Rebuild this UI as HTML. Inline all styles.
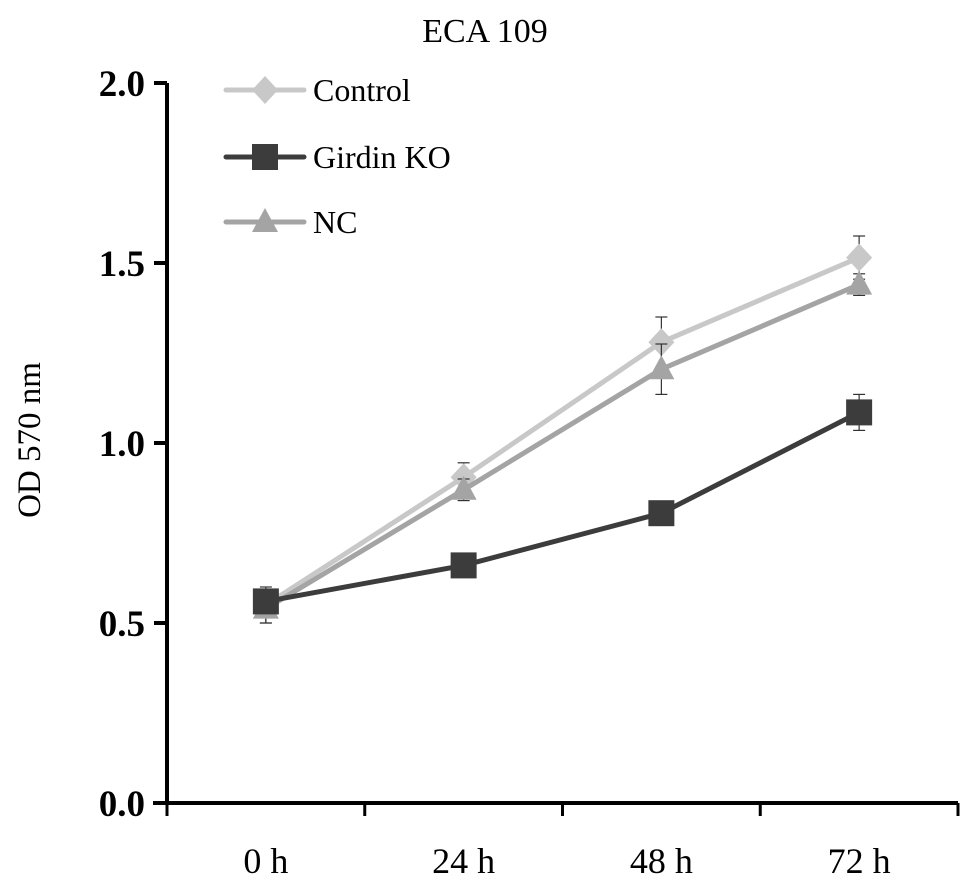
<!DOCTYPE html>
<html><head><meta charset="utf-8"><style>
body{margin:0;background:#fff}
svg{display:block;font-family:"Liberation Serif",serif}
</style></head><body>
<svg id="chart" width="969" height="887" viewBox="0 0 969 887" xmlns="http://www.w3.org/2000/svg">
<text x="485" y="42" font-size="34" text-anchor="middle">ECA 109</text>
<text transform="translate(40,440) rotate(-90)" font-size="33" text-anchor="middle">OD 570 nm</text>
<g id="axes"></g>
<g id="series"></g>
<g id="legend"></g>
</svg>
<script>
const categories=["0 h","24 h","48 h","72 h"];
const yTicks=[0,0.5,1,1.5,2];
const yTickLabels=["0.0","0.5","1.0","1.5","2.0"];
const controlVals=[0.55,0.905,1.28,1.515];
const controlErr=[0.05,0.04,0.07,0.06];
const girdinVals=[0.56,0.66,0.805,1.085];
const girdinErr=[0.03,0.02,0.02,0.05];
const ncVals=[0.54,0.87,1.205,1.44];
const ncErr=[0.04,0.03,0.07,0.03];
const NS="http://www.w3.org/2000/svg";
const x0=167,x1=958,yBase=803,yTop=83;
const y=v=>yBase-(v/2)*(yBase-yTop);
const step=(x1-x0)/categories.length;
const x=i=>x0+step*(i+0.5);
function mk(t,a,p){const e=document.createElementNS(NS,t);for(const k in a)e.setAttribute(k,a[k]);p.appendChild(e);return e;}
const axes=document.getElementById('axes');
const ya=mk('line',{x1:x0,y1:yTop,x2:x0,y2:yBase,stroke:'#000','stroke-width':4},axes);


const xa=mk('line',{x1:x0-14,y1:yBase,x2:x1,y2:yBase,stroke:'#000','stroke-width':4},axes);


yTicks.forEach((v,i)=>{
 mk('line',{x1:x0-13,y1:y(v),x2:x0,y2:y(v),stroke:'#000','stroke-width':4},axes);
 const t=mk('text',{x:x0-22,y:y(v)+13,'font-size':37,'font-weight':'bold','text-anchor':'end'},axes);
 t.textContent=yTickLabels[i];
 
 
});
for(let i=0;i<=categories.length;i++){
 mk('line',{x1:x0+step*i,y1:yBase,x2:x0+step*i,y2:yBase+13,stroke:'#000','stroke-width':3},axes);
}
categories.forEach((c,i)=>{
 const t=mk('text',{x:x(i),y:873,'font-size':36,'text-anchor':'middle'},axes);
 t.textContent=c;
 
 
});
const ser=document.getElementById('series');
const defs=[
 {name:'control',vals:controlVals,err:controlErr,col:'#c8c8c8',mark:'diamond'},
 {name:'ncc',vals:ncVals,err:ncErr,col:'#a4a4a4',mark:'triangle'},
 {name:'girdin-ko',vals:girdinVals,err:girdinErr,col:'#3c3c3c',mark:'square'}
];
function marker(m,cx,cy,col,g){
 if(m==='diamond')return mk('polygon',{points:`${cx},${cy-14} ${cx+13},${cy} ${cx},${cy+14} ${cx-13},${cy}`,fill:col},g);
 if(m==='square')return mk('rect',{x:cx-13,y:cy-13,width:26,height:26,fill:col},g);
 return mk('polygon',{points:`${cx},${cy-14} ${cx+13},${cy+10} ${cx-13},${cy+10}`,fill:col},g);
}
defs.forEach(d=>{
 const g=mk('g',{},ser);
 
 
 d.vals.forEach((v,i)=>{
  const top=y(v+d.err[i]),bot=y(v-d.err[i]);
  mk('line',{x1:x(i),y1:top,x2:x(i),y2:bot,stroke:'#333','stroke-width':1.2},g);
  mk('line',{x1:x(i)-6,y1:top,x2:x(i)+6,y2:top,stroke:'#333','stroke-width':1.2},g);
  mk('line',{x1:x(i)-6,y1:bot,x2:x(i)+6,y2:bot,stroke:'#333','stroke-width':1.2},g);
 });
 const pl=mk('polyline',{points:d.vals.map((v,i)=>x(i)+','+y(v)).join(' '),fill:'none',stroke:d.col,'stroke-width':5},g);
 
 
 d.vals.forEach((v,i)=>{
  const m=marker(d.mark,x(i),y(v),d.col,g);
  
  
 });
});
const lg=document.getElementById('legend');
const legendItems=[["Control",'#c8c8c8','diamond',90],["Girdin KO",'#3c3c3c','square',157],["NC",'#a4a4a4','triangle',222]];
legendItems.forEach(l=>{
 const g=mk('g',{},lg);
 
 
 mk('line',{x1:226,y1:l[3],x2:304,y2:l[3],stroke:l[1],'stroke-width':5,'stroke-linecap':'round'},g);
 marker(l[2],265,l[3],l[1],g);
 const t=mk('text',{x:313,y:l[3]+11,'font-size':32},g);
 t.textContent=l[0];
});
</script>
</body></html>
